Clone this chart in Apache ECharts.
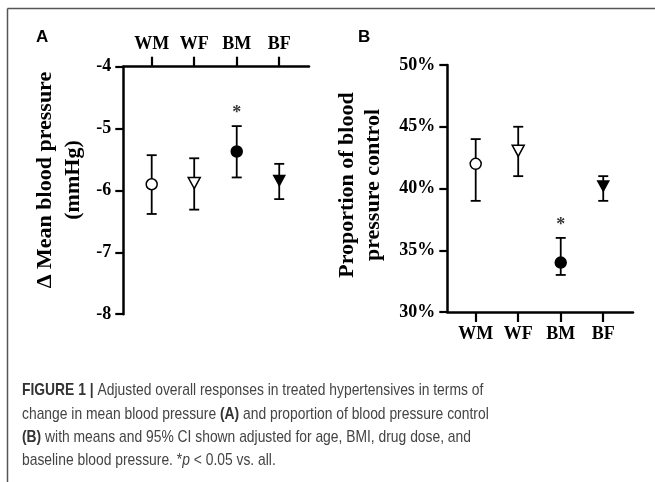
<!DOCTYPE html>
<html>
<head>
<meta charset="utf-8">
<script src="https://cdn.jsdelivr.net/npm/echarts@6/dist/echarts.min.js"></script>
<style>
  html, body { margin: 0; padding: 0; background: #fff; }
  #chart { width: 655px; height: 482px; }
</style>
</head>
<body>
<div id="chart"></div>
<script>
// groups, shared by both panels
const groups = ['WM', 'WF', 'BM', 'BF'];
const groupPos = [1, 2, 3, 4];

// panel A: change in mean blood pressure (mmHg)
const meanA = [-5.9, -5.88, -5.37, -5.84];
const lowA = [-6.38, -6.31, -5.79, -6.14];
const highA = [-5.43, -5.48, -4.96, -5.57];
const starA = [[3, -4.7]];

// panel B: proportion of blood pressure control (%)
const meanB = [42, 43.05, 34, 40.2];
const lowB = [39, 41, 33, 39];
const highB = [44, 45, 36, 41];
const starB = [[3, 37.3]];

// marker look per group
const markShape = ['circle', 'triangle', 'circle', 'triangle'];
const markFill = ['#fff', '#fff', '#000', '#000'];
const markSize = [[11, 11], [12, 11], [11, 11], [11, 10]];

const axisFont = { fontFamily: 'Liberation Serif', fontWeight: 'bold', fontSize: 18, color: '#000' };
const capFont = 'Liberation Sans';

function errorSeries(idx, low, high) {
  return {
    type: 'custom',
    xAxisIndex: idx, yAxisIndex: idx,
    data: groupPos.map((x, i) => [x, low[i], high[i]]),
    z: 2,
    renderItem: function (params, api) {
      const lo = api.coord([api.value(0), api.value(1)]);
      const hi = api.coord([api.value(0), api.value(2)]);
      const w = 5;
      const style = { stroke: '#000', lineWidth: 1.8 };
      return {
        type: 'group',
        children: [
          { type: 'line', shape: { x1: lo[0], y1: lo[1], x2: hi[0], y2: hi[1] }, style },
          { type: 'line', shape: { x1: hi[0] - w, y1: hi[1], x2: hi[0] + w, y2: hi[1] }, style },
          { type: 'line', shape: { x1: lo[0] - w, y1: lo[1], x2: lo[0] + w, y2: lo[1] }, style }
        ]
      };
    }
  };
}

function pointSeries(idx, mean) {
  return {
    type: 'scatter',
    xAxisIndex: idx, yAxisIndex: idx,
    z: 3,
    data: groupPos.map((x, i) => ({
      value: [x, mean[i]],
      symbol: markShape[i],
      symbolRotate: markShape[i] === 'triangle' ? 180 : 0,
      symbolSize: markSize[i],
      itemStyle: { color: markFill[i], borderColor: '#000', borderWidth: 1.5, opacity: 1 }
    }))
  };
}

// significance asterisk, drawn as a label on an invisible point
function starSeries(idx, pts) {
  return {
    type: 'scatter',
    xAxisIndex: idx, yAxisIndex: idx,
    symbol: 'circle',
    symbolSize: 1,
    itemStyle: { color: 'rgba(0,0,0,0)' },
    z: 4,
    data: pts,
    label: {
      show: true, position: 'inside', formatter: '*',
      fontFamily: 'Liberation Serif', fontWeight: 'bold', fontSize: 18, color: '#000', offset: [0, 3]
    }
  };
}

function xAxisFor(idx, pos) {
  return {
    type: 'value', gridIndex: idx, position: pos,
    min: 0.332, max: 4.7,
    axisLine: { lineStyle: { color: '#000', width: 2.5 } },
    axisTick: { show: true, customValues: groupPos, length: 10, lineStyle: { color: '#000', width: 2.2 } },
    axisLabel: Object.assign({ customValues: groupPos, margin: 13, formatter: v => groups[Math.round(v) - 1] }, axisFont),
    splitLine: { show: false }
  };
}

function yAxisFor(idx, min, max, step, fmt) {
  return {
    type: 'value', gridIndex: idx,
    min: min, max: max, interval: step,
    axisLine: { show: true, lineStyle: { color: '#000', width: 2.5 } },
    axisTick: { show: true, length: 8, lineStyle: { color: '#000', width: 2.2 } },
    axisLabel: Object.assign({ margin: 12, formatter: fmt }, axisFont),
    splitLine: { show: false }
  };
}

const chart = echarts.init(document.getElementById('chart'), null, { renderer: 'canvas' });

const rich = {
  b: { fontWeight: 'bold', fontSize: 17, fontFamily: capFont, fill: '#333' },
  i: { fontStyle: 'italic', fontSize: 17, fontFamily: capFont, fill: '#444' }
};

chart.setOption({
  backgroundColor: '#fff',
  animation: false,
  grid: [
    { left: 123.3, top: 66.7, width: 185.7, height: 247.5 },
    { left: 447.3, top: 65, width: 185.7, height: 247 }
  ],
  xAxis: [xAxisFor(0, 'top'), xAxisFor(1, 'bottom')],
  yAxis: [
    yAxisFor(0, -8, -4, 1, '{value}'),
    yAxisFor(1, 30, 50, 5, '{value}%')
  ],
  series: [
    errorSeries(0, lowA, highA),
    pointSeries(0, meanA),
    starSeries(0, starA),
    errorSeries(1, lowB, highB),
    pointSeries(1, meanB),
    starSeries(1, starB)
  ],
  graphic: [
    // frame
    { type: 'line', shape: { x1: 7.5, y1: 8.5, x2: 655, y2: 8.5 }, style: { stroke: '#555', lineWidth: 1.5 } },
    { type: 'line', shape: { x1: 7.5, y1: 8.5, x2: 7.5, y2: 482 }, style: { stroke: '#555', lineWidth: 1.5 } },
    // panel letters
    { type: 'text', x: 36, y: 37, style: { text: 'A', font: 'bold 17px ' + capFont, fill: '#000', verticalAlign: 'middle' } },
    { type: 'text', x: 358, y: 37, style: { text: 'B', font: 'bold 17px ' + capFont, fill: '#000', verticalAlign: 'middle' } },
    // y titles
    {
      type: 'text', x: 59, y: 180, rotation: Math.PI / 2,
      style: { text: 'Δ Mean blood pressure\n(mmHg)', font: 'bold 22px Liberation Serif', lineHeight: 28, fill: '#000', align: 'center', verticalAlign: 'middle' }
    },
    {
      type: 'text', x: 360, y: 185, rotation: Math.PI / 2,
      style: { text: 'Proportion of blood\npressure control', font: 'bold 22px Liberation Serif', lineHeight: 26, fill: '#000', align: 'center', verticalAlign: 'middle' }
    },
    // caption
    {
      type: 'group', x: 22, y: 390, scaleX: 0.815,
      children: [
        { type: 'text', x: 0, y: 0, style: { text: '{b|FIGURE 1 |} Adjusted overall responses in treated hypertensives in terms of', verticalAlign: 'middle', rich: rich, font: '17px ' + capFont, fill: '#444' } },
        { type: 'text', x: 0, y: 24, style: { text: 'change in mean blood pressure {b|(A)} and proportion of blood pressure control', verticalAlign: 'middle', rich: rich, font: '17px ' + capFont, fill: '#444' } },
        { type: 'text', x: 0, y: 47, style: { text: '{b|(B)} with means and 95% CI shown adjusted for age, BMI, drug dose, and', verticalAlign: 'middle', rich: rich, font: '17px ' + capFont, fill: '#444' } },
        { type: 'text', x: 0, y: 70, style: { text: 'baseline blood pressure. *{i|p} < 0.05 vs. all.', verticalAlign: 'middle', rich: rich, font: '17px ' + capFont, fill: '#444' } }
      ]
    }
  ]
});
</script>
</body>
</html>
